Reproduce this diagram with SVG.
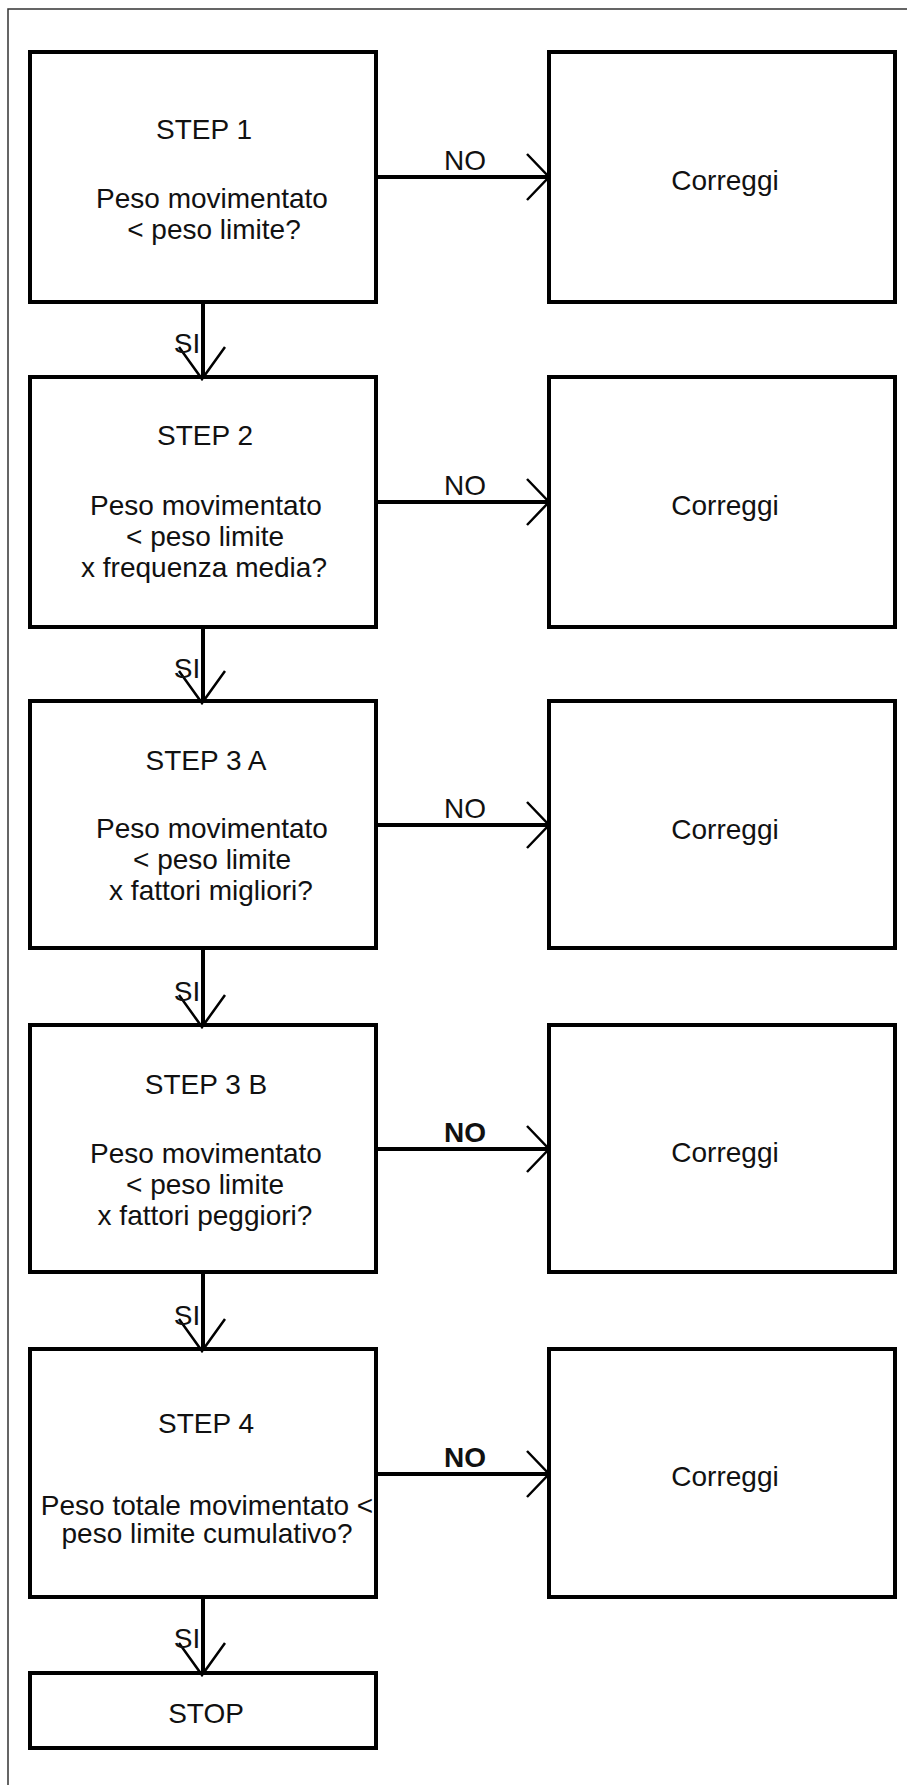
<svg xmlns="http://www.w3.org/2000/svg" width="907" height="1785" viewBox="0 0 907 1785">
<style>
.box{fill:#fff;stroke:#000;stroke-width:4}
.t{font-family:"Liberation Sans",Arial,sans-serif;font-size:28px;fill:#111;text-anchor:middle}
.lbl{font-family:"Liberation Sans",Arial,sans-serif;font-size:28px;fill:#111;text-anchor:middle}
.b{font-weight:bold}
.ln{stroke:#000;stroke-width:4;fill:none}
.hd{stroke:#000;stroke-width:2.5;fill:none}
.frame{stroke:#333;stroke-width:1.5;fill:none}
</style>
<rect x="0" y="0" width="907" height="1785" fill="#fff"/>
<path class="frame" d="M8,1785 V9 H907"/>

<g id="step1">
<rect class="box" x="30" y="52" width="346" height="250"/>
<text class="t" x="204" y="139">STEP 1</text>
<text class="t" x="212" y="208">Peso movimentato</text>
<text class="t" x="214" y="239">&lt; peso limite?</text>
</g>
<g id="correggi1">
<rect class="box" x="549" y="52" width="346" height="250"/>
<text class="t" x="725" y="190">Correggi</text>
</g>

<g id="step2">
<rect class="box" x="30" y="377" width="346" height="250"/>
<text class="t" x="205" y="445">STEP 2</text>
<text class="t" x="206" y="515">Peso movimentato</text>
<text class="t" x="205" y="546">&lt; peso limite</text>
<text class="t" x="204" y="577">x frequenza media?</text>
</g>
<g id="correggi2">
<rect class="box" x="549" y="377" width="346" height="250"/>
<text class="t" x="725" y="515">Correggi</text>
</g>

<g id="step3a">
<rect class="box" x="30" y="701" width="346" height="247"/>
<text class="t" x="206" y="770">STEP 3 A</text>
<text class="t" x="212" y="838">Peso movimentato</text>
<text class="t" x="212" y="869">&lt; peso limite</text>
<text class="t" x="211" y="900">x fattori migliori?</text>
</g>
<g id="correggi3a">
<rect class="box" x="549" y="701" width="346" height="247"/>
<text class="t" x="725" y="839">Correggi</text>
</g>

<g id="step3b">
<rect class="box" x="30" y="1025" width="346" height="247"/>
<text class="t" x="206" y="1094">STEP 3 B</text>
<text class="t" x="206" y="1163">Peso movimentato</text>
<text class="t" x="205" y="1194">&lt; peso limite</text>
<text class="t" x="205" y="1225">x fattori peggiori?</text>
</g>
<g id="correggi3b">
<rect class="box" x="549" y="1025" width="346" height="247"/>
<text class="t" x="725" y="1162">Correggi</text>
</g>

<g id="step4">
<rect class="box" x="30" y="1349" width="346" height="248"/>
<text class="t" x="206" y="1433">STEP 4</text>
<text class="t" x="207" y="1515">Peso totale movimentato &lt;</text>
<text class="t" x="207" y="1543">peso limite cumulativo?</text>
</g>
<g id="correggi4">
<rect class="box" x="549" y="1349" width="346" height="248"/>
<text class="t" x="725" y="1486">Correggi</text>
</g>

<g id="stop">
<rect class="box" x="30" y="1673" width="346" height="75"/>
<text class="t" x="206" y="1723">STOP</text>
</g>

<g id="connectors">
<line class="ln" x1="376" y1="177" x2="549" y2="177"/>
<path class="hd" d="M527,154 L549,177 L527,200"/>
<text class="lbl" x="465" y="170">NO</text>

<line class="ln" x1="376" y1="502" x2="549" y2="502"/>
<path class="hd" d="M527,479 L549,502 L527,525"/>
<text class="lbl" x="465" y="495">NO</text>

<line class="ln" x1="376" y1="825" x2="549" y2="825"/>
<path class="hd" d="M527,802 L549,825 L527,848"/>
<text class="lbl" x="465" y="818">NO</text>

<line class="ln" x1="376" y1="1149" x2="549" y2="1149"/>
<path class="hd" d="M527,1126 L549,1149 L527,1172"/>
<text class="lbl b" x="465" y="1142">NO</text>

<line class="ln" x1="376" y1="1474" x2="549" y2="1474"/>
<path class="hd" d="M527,1451 L549,1474 L527,1497"/>
<text class="lbl b" x="465" y="1467">NO</text>

<line class="ln" x1="203" y1="302" x2="203" y2="378"/>
<path class="hd" d="M179,347 L202,379 L225,347"/>
<text class="lbl" x="187" y="353">SI</text>

<line class="ln" x1="203" y1="627" x2="203" y2="702"/>
<path class="hd" d="M179,671 L202,703 L225,671"/>
<text class="lbl" x="187" y="678">SI</text>

<line class="ln" x1="203" y1="948" x2="203" y2="1026"/>
<path class="hd" d="M179,995 L202,1027 L225,995"/>
<text class="lbl" x="187" y="1001">SI</text>

<line class="ln" x1="203" y1="1272" x2="203" y2="1350"/>
<path class="hd" d="M179,1319 L202,1351 L225,1319"/>
<text class="lbl" x="187" y="1325">SI</text>

<line class="ln" x1="203" y1="1597" x2="203" y2="1674"/>
<path class="hd" d="M179,1643 L202,1675 L225,1643"/>
<text class="lbl" x="187" y="1648">SI</text>
</g>
</svg>
